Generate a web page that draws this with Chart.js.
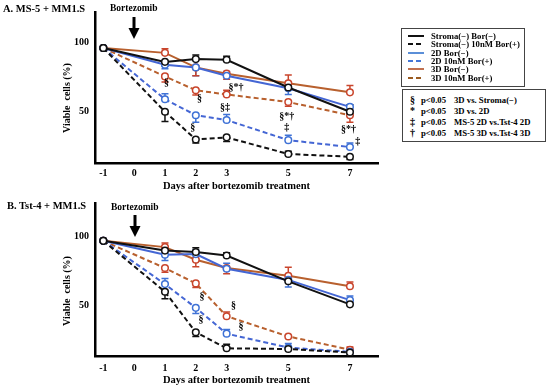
<!DOCTYPE html>
<html><head><meta charset="utf-8">
<script src="https://cdn.jsdelivr.net/npm/chart.js@4/dist/chart.umd.min.js"></script>
<style>
body{margin:0;width:550px;height:392px;background:#fff;position:relative;overflow:hidden;font-family:'Liberation Serif','Times New Roman',serif;font-weight:bold;color:#000;}
.abs{position:absolute;white-space:nowrap;line-height:1;}
.ttl{font-size:10.5px;}
.ytl{font-size:10px;transform:translate(-50%,-50%) rotate(-90deg);}
.box{position:absolute;border:1px solid #444;box-sizing:border-box;}
.row{position:absolute;font-size:8.7px;white-space:nowrap;line-height:1;transform:translateY(-50%);}
</style></head><body>
<canvas id="cA" width="400" height="195" style="position:absolute;left:0px;top:0px"></canvas>
<canvas id="cB" width="400" height="202" style="position:absolute;left:0px;top:190px"></canvas>
<div id="overlay"></div>
<script>
// ---------- data ----------
const days = [-1, 1, 2, 3, 5, 7];
const xTicks = [-1, 0, 1, 2, 3, 5, 7];
const yTicks = [50, 100];
const seriesNames = ['Stroma(−) Bor(−)', 'Stroma(−) 10nM Bor(+)', '2D Bor(−)', '2D 10nM Bor(+)', '3D Bor(−)', '3D 10nM Bor(+)'];

// Panel A: MS-5 + MM1.S
const aStromaNeg = [96, 86, 88, 87.5, 67.5, 50];
const aStromaBor = [96, 50, 30, 31.5, 19.5, 17.5];
const a2dNeg     = [96, 84, 82, 76, 67, 53.5];
const a2dBor     = [96, 59, 47.5, 44, 29.5, 24.5];
const a3dNeg     = [96, 92.5, 82, 77.5, 70.5, 64];
const a3dBor     = [96, 75.5, 65.5, 62.5, 57, 47.5];
const aStromaNegErr = [0, -3, 3, 2.5, 3, 5];
const aStromaBorErr = [0, -7, -2.5, -3, 2, -2];
const a2dNegErr     = [0, -3, -6, 3, -4.5, -3];
const a2dBorErr     = [0, 4, -5, 4, 3.5, 3];
const a3dNegErr     = [0, 3, -6, -4, 6, 5];
const a3dBorErr     = [0, -4, -3.5, 3, -3, -5];
const aNotes = [
  {x: 1.05, y: 71.5, t: '§'}, {x: 2.12, y: 59.5, t: '§'}, {x: 3.3, y: 67.5, t: '§*†'},
  {x: 2.95, y: 53, t: '§‡'}, {x: 1.9, y: 39, t: '§'}, {x: 4.95, y: 46.5, t: '§*†'},
  {x: 4.95, y: 38.5, t: '‡'}, {x: 6.95, y: 37, t: '§*†'}, {x: 7.25, y: 28.5, t: '‡'}
];

// Panel B: Tst-4 + MM1.S
const bStromaNeg = [96.5, 89.5, 88.5, 86, 67.5, 51];
const bStromaBor = [96.5, 60, 31, 19.5, 19, 16.5];
const b2dNeg     = [96.5, 86.5, 87, 76.5, 68.5, 54];
const b2dBor     = [96.5, 65.5, 48.5, 30, 20, 17];
const b3dNeg     = [96.5, 92, 83, 77, 71.5, 64];
const b3dBor     = [96.5, 77, 66, 42.5, 28, 18.5];
const bStromaNegErr = [0, -3, 3, 2, 0, 3];
const bStromaBorErr = [0, -5, -3, 3, 0, 0];
const b2dNegErr     = [0, -4, 3, 4, -5, 3];
const b2dBorErr     = [0, 4, -4, 3, 3, 0];
const b3dNegErr     = [0, 3, -5, -4, 6, 3];
const b3dBorErr     = [0, -3, -3, 3, 0, 2];
const bNotes = [
  {x: 2.2, y: 56.5, t: '§'}, {x: 2.17, y: 40.5, t: '§'},
  {x: 3.22, y: 50, t: '§'}, {x: 3.47, y: 35, t: '§'}
];

const legendNotes = [
  ['§', 'p<0.05', '3D vs. Stroma(−)'],
  ['*', 'p<0.05', '3D vs. 2D'],
  ['‡', 'p<0.05', 'MS-5 2D vs.Tst-4 2D'],
  ['†', 'p<0.05', 'MS-5 3D vs.Tst-4 3D']
];

// ---------- styles ----------
const BLACK = '#111111', BLUE = '#4466d4', BROWN = '#b8602e', RED = '#c9452c';
const styles = [
  {c: BLACK, pc: BLACK, dash: []},
  {c: BLACK, pc: BLACK, dash: [5, 3]},
  {c: BLUE, pc: '#3f72d6', dash: []},
  {c: BLUE, pc: '#3f72d6', dash: [5, 3]},
  {c: BROWN, pc: RED, dash: []},
  {c: BROWN, pc: RED, dash: [5, 3]}
];
const legendColors = [BLACK, BLACK, '#5b8fd8', '#4477d8', '#c07050', '#9a5a20'];
const FONT = "'Liberation Serif', 'Times New Roman', serif";

Chart.defaults.font.family = FONT;
Chart.defaults.color = '#000';

const errPlugin = {
  id: 'errNotes',
  beforeDatasetsDraw(chart) {
    const ctx = chart.ctx, xs = chart.scales.x, ys = chart.scales.y;
    ctx.save();
    chart.data.datasets.forEach(ds => {
      ctx.strokeStyle = ds.pointBorderColor;
      ctx.lineWidth = 1.5;
      ctx.setLineDash([]);
      ds.err.forEach((e, j) => {
        if (!e) return;
        const p = ds.data[j];
        const x = xs.getPixelForValue(p.x);
        const y0 = ys.getPixelForValue(p.y);
        const y1 = ys.getPixelForValue(p.y + e);
        ctx.beginPath();
        ctx.moveTo(x, y0); ctx.lineTo(x, y1);
        ctx.moveTo(x - 3.5, y1); ctx.lineTo(x + 3.5, y1);
        ctx.stroke();
      });
    });
    ctx.restore();
  },
  afterDatasetsDraw(chart) {
    const notes = chart.options.plugins.errNotes.notes || [];
    const ctx = chart.ctx, xs = chart.scales.x, ys = chart.scales.y;
    ctx.save();
    ctx.fillStyle = '#000';
    ctx.font = 'bold 10px ' + FONT;
    ctx.textAlign = 'center';
    ctx.textBaseline = 'middle';
    notes.forEach(n => ctx.fillText(n.t, xs.getPixelForValue(n.x), ys.getPixelForValue(n.y)));
    ctx.restore();
  }
};

function makeChart(id, series, errs, notes, ymin, ymax, xTickPad, xTitlePad, topPad, canvasH, axisBottom) {
  const datasets = series.map((vals, i) => ({
    label: seriesNames[i],
    data: days.map((d, j) => ({x: d, y: vals[j]})),
    err: errs[i],
    borderColor: styles[i].c,
    borderDash: styles[i].dash,
    borderWidth: 2,
    pointBorderColor: styles[i].pc,
    pointBackgroundColor: '#fff',
    pointBorderWidth: 1.5,
    pointRadius: 3.3,
    tension: 0,
    fill: false
  }));
  return new Chart(document.getElementById(id), {
    type: 'line',
    data: {datasets},
    plugins: [errPlugin],
    options: {
      responsive: false,
      animation: false,
      devicePixelRatio: 1,
      layout: {padding: {top: topPad, right: 22, left: 0, bottom: 0}},
      plugins: {legend: {display: false}, tooltip: {enabled: false}, errNotes: {notes}},
      scales: {
        x: {
          type: 'linear', min: -1.27, max: 7.91,
          grid: {display: false, drawTicks: false},
          border: {display: true, color: '#000', width: 2.5},
          afterBuildTicks: s => { s.ticks = xTicks.map(v => ({value: v})); },
          afterFit: s => { s.height = canvasH - axisBottom; },
          ticks: {padding: xTickPad, font: {size: 10, weight: 'bold'}, color: '#000', maxRotation: 0},
          title: {display: true, text: 'Days after bortezomib treatment', font: {size: 10.5, weight: 'bold'}, color: '#000', padding: {top: 0, bottom: xTitlePad}}
        },
        y: {
          type: 'linear', min: ymin, max: ymax,
          grid: {display: false, drawTicks: false},
          border: {display: true, color: '#000', width: 2.5},
          afterBuildTicks: s => { s.ticks = yTicks.map(v => ({value: v})); },
          afterFit: s => { s.width = 95; },
          ticks: {padding: 6, font: {size: 10, weight: 'bold'}, color: '#000'}
        }
      }
    }
  });
}

makeChart('cA',
  [aStromaNeg, aStromaBor, a2dNeg, a2dBor, a3dNeg, a3dBor],
  [aStromaNegErr, aStromaBorErr, a2dNegErr, a2dBorErr, a3dNegErr, a3dBorErr],
  aNotes, 13, 122, 4, 2, 12, 195, 163);
makeChart('cB',
  [bStromaNeg, bStromaBor, b2dNeg, b2dBor, b3dNeg, b3dBor],
  [bStromaNegErr, bStromaBorErr, b2dNegErr, b2dBorErr, b3dNegErr, b3dBorErr],
  bNotes, 14, 123.6, 6, 5, 13, 202, 166);

// ---------- overlay: titles, arrows, legends ----------
const ov = document.getElementById('overlay');
function add(html) { ov.insertAdjacentHTML('beforeend', html); }
add('<div class="abs ttl" style="left:3px;top:4px">A. MS-5 + MM1.S</div>');
add('<div class="abs ttl" style="left:7px;top:201px">B. Tst-4 + MM1.S</div>');
add('<div class="abs" style="left:110px;top:4px;font-size:9.5px">Bortezomib</div>');
add('<div class="abs" style="left:111px;top:203px;font-size:9.5px">Bortezomib</div>');
function arrow(x, y1, y2) {
  return '<svg class="abs" style="left:' + (x - 7) + 'px;top:' + y1 + 'px" width="14" height="' + (y2 - y1) + '">' +
    '<rect x="5.5" y="0" width="3" height="' + (y2 - y1 - 9) + '" fill="#000"/>' +
    '<polygon points="1.5,' + (y2 - y1 - 11) + ' 12.5,' + (y2 - y1 - 11) + ' 7,' + (y2 - y1) + '" fill="#000"/></svg>';
}
add(arrow(134, 17, 39));
add(arrow(135, 215, 237));
add('<div class="abs ytl" style="left:67px;top:98px">Viable&nbsp;&nbsp;cells (%)</div>');
add('<div class="abs ytl" style="left:67px;top:291px">Viable&nbsp;&nbsp;cells (%)</div>');

let lg = '<div class="box" style="left:401px;top:28px;width:124px;height:59px">';
seriesNames.forEach((n, i) => {
  const y = 7 + i * 8.35;
  const dash = styles[i].dash.length ? 'stroke-dasharray="5 3"' : '';
  lg += '<svg class="abs" style="left:6px;top:' + (y - 2) + 'px" width="16" height="4"><line x1="0" y1="2" x2="16" y2="2" stroke="' + legendColors[i] + '" stroke-width="2" ' + dash + '/></svg>';
  lg += '<div class="row" style="left:29px;top:' + y + 'px">' + n + '</div>';
});
lg += '</div>';
add(lg);

let lg2 = '<div class="box" style="left:402px;top:89px;width:144px;height:53px">';
legendNotes.forEach((r, i) => {
  const y = 10 + i * 11;
  lg2 += '<div class="row" style="left:7px;top:' + y + 'px;font-size:10px">' + r[0] + '</div>';
  lg2 += '<div class="row" style="left:18px;top:' + y + 'px">' + r[1] + '</div>';
  lg2 += '<div class="row" style="left:51px;top:' + y + 'px">' + r[2] + '</div>';
});
lg2 += '</div>';
add(lg2);
</script>
</body></html>
